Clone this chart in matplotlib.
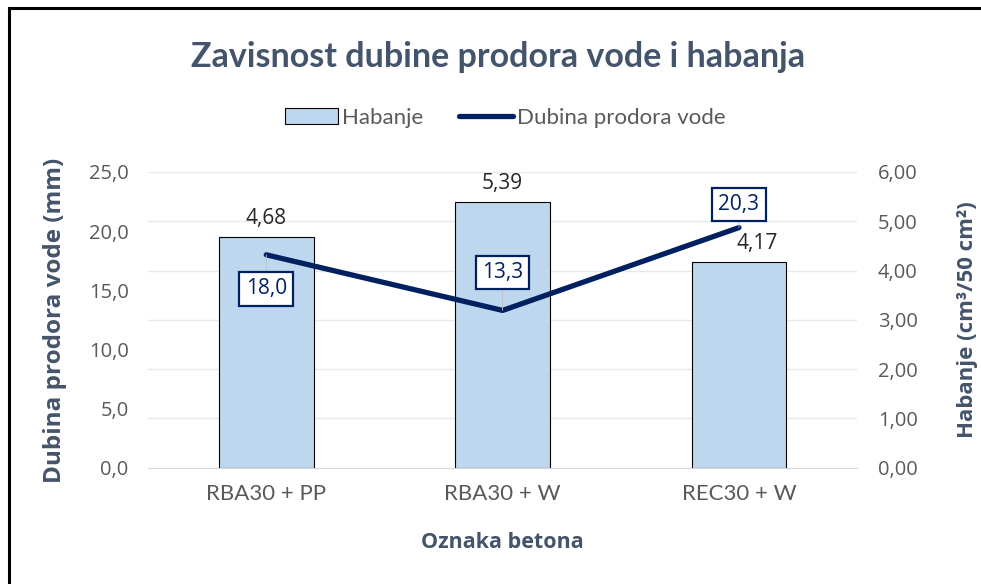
import matplotlib.pyplot as plt
from matplotlib.lines import Line2D
from matplotlib.patches import Patch

categories = ['RBA30 + PP', 'RBA30 + W', 'REC30 + W']
habanje = [4.68, 5.39, 4.17]          # cm3/50 cm2, right axis
dubina = [18.0, 13.3, 20.3]           # mm, left axis
habanje_dx = [0, 0, 18]               # bar label nudges (px)
dubina_offsets = [-34, 38, 23]        # label box offsets (px)

TXT = '#44546A'
NAVY = '#002060'
BAR = '#BDD7EE'

fig = plt.figure(figsize=(9.81, 5.84), dpi=100)
ax = fig.add_axes([0.151, 0.199, 0.7227, 0.5065])
ax2 = ax.twinx()

x = list(range(len(categories)))

# bars on the secondary axis
ax2.bar(x, habanje, width=0.4, color=BAR, edgecolor='#000000', linewidth=0.8, zorder=2)
for xi, v, dx in zip(x, habanje, habanje_dx):
    ax2.annotate(f'{v:.2f}'.replace('.', ','), (xi, v), xytext=(dx, 8),
                 textcoords='offset pixels', ha='center', va='bottom',
                 fontsize=15, color='#262626', family='Open Sans')
ax2.set_ylim(0, 6)
ax2.set_yticks([0, 1, 2, 3, 4, 5, 6])
ax2.set_yticklabels([f'{t:.2f}'.replace('.', ',') for t in range(7)])

# line on top of the bars
ax.set_zorder(ax2.get_zorder() + 1)
ax.patch.set_visible(False)
ax.plot(x, dubina, color=NAVY, linewidth=3.8, solid_capstyle='round', zorder=3)
for xi, v, off in zip(x, dubina, dubina_offsets):
    ax.annotate(f'{v:.1f}'.replace('.', ','), (xi, v), xytext=(0, off),
                textcoords='offset pixels', ha='center', va='center',
                fontsize=15, color=NAVY, family='Open Sans',
                bbox=dict(boxstyle='square,pad=0.3', fc='white', ec=NAVY, lw=1.6),
                arrowprops=dict(arrowstyle='-', color='#BFBFBF', lw=0.6,
                                shrinkA=0, shrinkB=0),
                zorder=4)
ax.set_ylim(0, 25)
ax.set_yticks([0, 5, 10, 15, 20, 25])
ax.set_yticklabels([f'{t:.1f}'.replace('.', ',') for t in range(0, 26, 5)])
ax.set_xlim(-0.5, 2.5)
ax.set_xticks(x)
ax.set_xticklabels(categories)

ax2.yaxis.grid(True, color='#E4E9F0', linewidth=1.0)
ax2.set_axisbelow(True)

for a in (ax, ax2):
    for s in ('top', 'right', 'left', 'bottom'):
        a.spines[s].set_visible(False)
    a.tick_params(length=0, labelsize=14.5, labelcolor='#595959')
ax.spines['bottom'].set_visible(True)
ax.spines['bottom'].set_color('#D9D9D9')
ax.tick_params(axis='y', pad=14)
ax.tick_params(axis='x', pad=12, labelsize=16)
ax2.tick_params(axis='y', pad=15)
for lab in ax.get_yticklabels() + ax2.get_yticklabels():
    lab.set_family('Open Sans')
for lab in ax.get_xticklabels():
    lab.set_family('Lato')

ax.set_ylabel('Dubina prodora vode (mm)', fontsize=17.5, fontweight='bold',
              color=TXT, family='Open Sans', labelpad=16)
ax2.set_ylabel('Habanje (cm³/50 cm²)', fontsize=16, fontweight='bold',
               color=TXT, family='Open Sans', labelpad=28)
ax.set_xlabel('Oznaka betona', fontsize=15.5, fontweight='bold',
              color=TXT, family='Open Sans', labelpad=20)

fig.text(0.508, 0.902, 'Zavisnost dubine prodora vode i habanja', ha='center',
         va='center', fontsize=24.5, fontweight='bold', color=TXT, family='Lato')

handles = [Patch(facecolor=BAR, edgecolor='#000000', linewidth=0.8),
           Line2D([0], [0], color=NAVY, linewidth=3.8, solid_capstyle='round')]
fig.legend(handles, ['Habanje', 'Dubina prodora vode'], loc='center',
           bbox_to_anchor=(0.515, 0.798), ncol=2, frameon=False,
           prop={'family': 'Lato', 'size': 16}, labelcolor='#595959',
           handlelength=2.4, handletextpad=0.2, columnspacing=1.6)

# frame of the chart area
fig.add_artist(Line2D([0.009, 1.0], [0.986, 0.986], color='black', lw=2.2))
fig.add_artist(Line2D([0.009, 0.009], [0.0, 0.986], color='black', lw=2.2))

fig.savefig('out.png', dpi=100)
